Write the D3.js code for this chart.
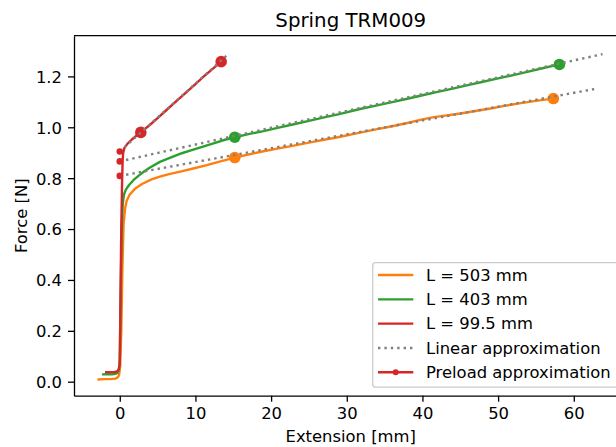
<!DOCTYPE html>
<html>
<head>
<meta charset="utf-8">
<script src="https://cdn.jsdelivr.net/npm/d3@7"></script>
<style>
  body { margin: 0; background: #fff; }
  svg { display: block; }
  text { font-family: "DejaVu Sans", sans-serif; fill: #000; }
</style>
</head>
<body>
<svg id="chart" width="616" height="447"></svg>
<script>
// Measured spring curves: extension [mm] vs force [N]
const ext503 = [-2.8,-2.0,-1.2,-0.6,-0.3,-0.1,0.05,0.2,0.35,0.5,0.7,0.9,1.3,2.0,3.0,4.2,5.3,6.5,8,9.7,11.5,13.3,15.2,17,19,21,23,25,27,29,31.75,34,36,38,40,41.5,43,45,47,49,51,53,55,57.3];
const force503 = [0.009,0.010,0.010,0.012,0.016,0.025,0.06,0.2,0.45,0.62,0.68,0.71,0.735,0.758,0.778,0.795,0.806,0.816,0.826,0.838,0.851,0.866,0.881,0.893,0.906,0.917,0.928,0.940,0.951,0.962,0.979,0.993,1.004,1.017,1.031,1.040,1.046,1.054,1.064,1.074,1.085,1.095,1.104,1.113];

const ext403 = [-2.2,-1.6,-1.0,-0.6,-0.3,-0.1,0.0,0.1,0.2,0.3,0.4,0.55,0.8,1.2,1.8,2.5,3.2,4.0,5.3,6.2,7.2,8.2,9.5,11,12.5,14,15.2,17,19,21,23,25,27,29,31.75,34,36,38,40,42,44,46,48,50,52,54,56,58.1];
const force403 = [0.029,0.030,0.029,0.031,0.035,0.05,0.09,0.3,0.5,0.64,0.70,0.735,0.755,0.772,0.792,0.81,0.826,0.842,0.864,0.875,0.887,0.898,0.910,0.924,0.938,0.952,0.961,0.973,0.985,0.999,1.012,1.025,1.039,1.052,1.072,1.086,1.099,1.112,1.126,1.139,1.152,1.166,1.179,1.192,1.205,1.219,1.233,1.247];

const ext995 = [-1.8,-1.2,-0.7,-0.4,-0.15,0.0,0.05,0.12,0.2,0.3,0.38,0.45,0.6,1.0,1.6,2.2,2.78,4,5,6,7,8,9,10,11,12,13.4];
const force995 = [0.037,0.037,0.038,0.040,0.047,0.07,0.2,0.4,0.6,0.78,0.87,0.90,0.918,0.935,0.952,0.967,0.980,1.010,1.036,1.063,1.090,1.117,1.143,1.170,1.197,1.223,1.258];

// Endpoints of the fitted linear range for each spring
const fitExt503 = [15.2, 57.3];
const fitForce503 = [0.881, 1.113];
const fitExt403 = [15.2, 58.1];
const fitForce403 = [0.961, 1.247];
const fitExt995 = [2.78, 13.4];
const fitForce995 = [0.980, 1.258];

// Linear approximation F = F0 + k*x (F0 is the preload)
const linearIntercept = [0.809, 0.866, 0.905];
const linearSlope = [0.00544, 0.00661, 0.02667];
const linearEndExt = [62.7, 63.8, 14.4];

const legendLabels = ["L = 503 mm", "L = 403 mm", "L = 99.5 mm", "Linear approximation", "Preload approximation"];
const xTicks = [0, 10, 20, 30, 40, 50, 60];
const yTicks = [0.0, 0.2, 0.4, 0.6, 0.8, 1.0, 1.2];

const colors = ["#ff7f0e", "#2ca02c", "#d62728"];
const gray = "#808080";
const fontSize = 16.4;

const svg = d3.select("#chart");
const plotLeft = 74, plotRight = 627.5, plotTop = 35.7, plotBottom = 395.7;

const x = d3.scaleLinear().domain([-6.05, 67.1]).range([plotLeft, plotRight]);
const y = d3.scaleLinear().domain([-0.055, 1.36]).range([plotBottom, plotTop]);

const series = [
  { ext: ext503, force: force503, fx: fitExt503, fy: fitForce503 },
  { ext: ext403, force: force403, fx: fitExt403, fy: fitForce403 },
  { ext: ext995, force: force995, fx: fitExt995, fy: fitForce995 }
];

const line = d3.line().x(d => x(d[0])).y(d => y(d[1]));
const plot = svg.append("g");

series.forEach((s, i) => {
  const pts = s.ext.map((e, j) => [e, s.force[j]]);
  plot.append("path").attr("d", line(pts))
    .attr("fill", "none").attr("stroke", colors[i])
    .attr("stroke-width", 2.4).attr("stroke-linejoin", "round").attr("stroke-linecap", "square");
  s.fx.forEach((fx, j) => {
    plot.append("circle").attr("cx", x(fx)).attr("cy", y(s.fy[j])).attr("r", 5.8).attr("fill", colors[i]);
  });
});

// dotted linear approximations
linearIntercept.forEach((b, i) => {
  const pts = [[0, b], [linearEndExt[i], b + linearSlope[i] * linearEndExt[i]]];
  plot.append("path").attr("d", line(pts))
    .attr("fill", "none").attr("stroke", gray).attr("stroke-width", 2.4)
    .attr("stroke-dasharray", "2.4,4.0");
});

// preload points (intercepts at zero extension)
linearIntercept.forEach(b => {
  plot.append("circle").attr("cx", x(0)).attr("cy", y(b)).attr("r", 3.3).attr("fill", colors[2]);
});

// axes
const xAxis = d3.axisBottom(x).tickValues(xTicks).tickFormat(d3.format("d")).tickSizeInner(6).tickSizeOuter(0).tickPadding(6.1);
const yAxis = d3.axisLeft(y).tickValues(yTicks).tickFormat(d3.format(".1f")).tickSizeInner(6).tickSizeOuter(0).tickPadding(6);

const gx = svg.append("g").attr("transform", `translate(0,${plotBottom})`).call(xAxis);
const gy = svg.append("g").attr("transform", `translate(${plotLeft},0)`).call(yAxis);
[gx, gy].forEach(g => {
  g.selectAll("path.domain").attr("stroke", "#000").attr("stroke-width", 1.3);
  g.selectAll(".tick line").attr("stroke", "#000").attr("stroke-width", 1.3);
  g.selectAll(".tick text").attr("font-size", fontSize).attr("font-family", "DejaVu Sans").attr("fill", "#000");
});
gy.selectAll(".tick text").attr("dy", "0.36em");
svg.append("line").attr("x1", plotLeft).attr("x2", plotRight).attr("y1", plotTop).attr("y2", plotTop)
  .attr("stroke", "#000").attr("stroke-width", 1.3);

// titles
svg.append("text").attr("x", (plotLeft + plotRight) / 2).attr("y", 26.5).attr("text-anchor", "middle")
  .attr("font-size", 19.8).text("Spring TRM009");
svg.append("text").attr("x", (plotLeft + plotRight) / 2).attr("y", 442).attr("text-anchor", "middle")
  .attr("font-size", fontSize).text("Extension [mm]");
svg.append("text").attr("transform", `translate(26.5,${(plotTop + plotBottom) / 2}) rotate(-90)`)
  .attr("text-anchor", "middle").attr("font-size", fontSize).text("Force [N]");

// legend
const lg = svg.append("g");
const lgLeft = 372.7, lgTop = 262.7, lgBottom = 387.2, lgRight = 619.5;
lg.append("rect").attr("x", lgLeft).attr("y", lgTop).attr("width", lgRight - lgLeft).attr("height", lgBottom - lgTop)
  .attr("rx", 3).attr("fill", "#fff").attr("fill-opacity", 0.8).attr("stroke", "#cccccc").attr("stroke-width", 1.3);
const rowY = d3.scaleLinear().domain([0, 4]).range([275, 372.3]);
legendLabels.forEach((lab, i) => {
  const cy = rowY(i);
  const col = i < 3 ? colors[i] : (i === 3 ? gray : colors[2]);
  const h = lg.append("line").attr("x1", 378).attr("x2", 413.3).attr("y1", cy).attr("y2", cy)
    .attr("stroke", col).attr("stroke-width", 2.4);
  if (i === 3) h.attr("stroke-dasharray", "2.4,4.0");
  if (i === 4) lg.append("circle").attr("cx", 395.7).attr("cy", cy).attr("r", 3).attr("fill", col);
  lg.append("text").attr("x", 426).attr("y", cy + 5.8).attr("font-size", fontSize).text(lab);
});
</script>
</body>
</html>
